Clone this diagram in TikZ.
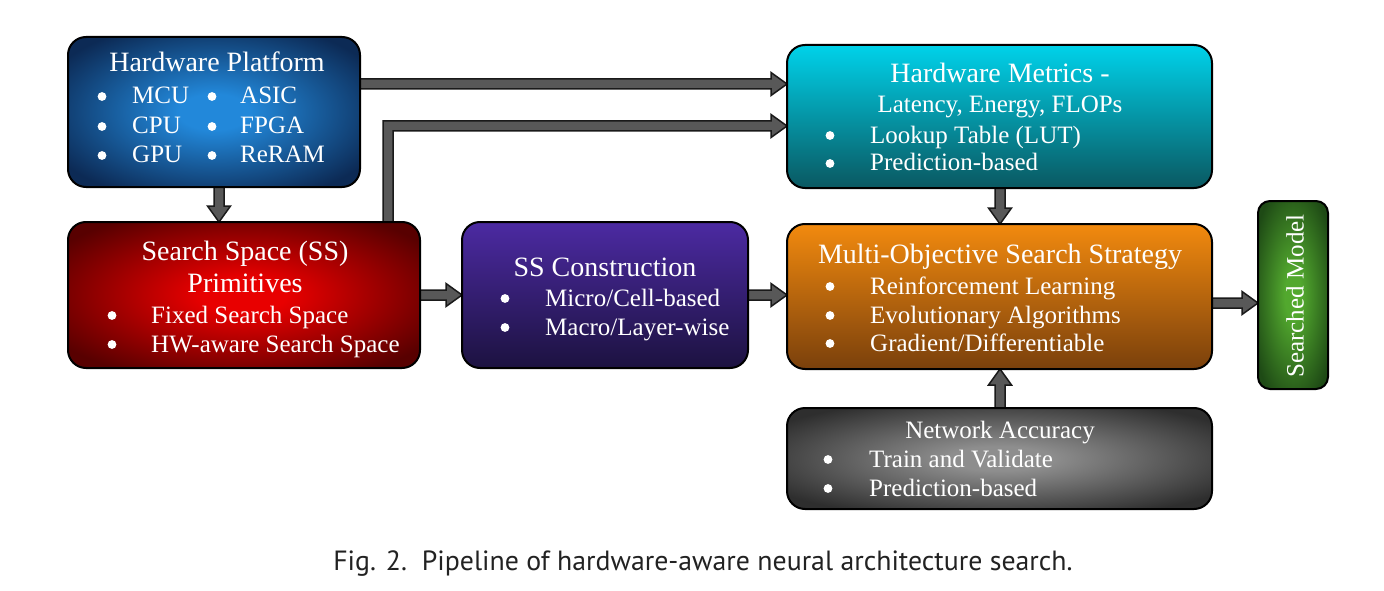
\documentclass[tikz,border=0pt]{standalone}
\usepackage{fontspec}
\setmainfont{Liberation Serif}
\newfontfamily\capfont{PT Sans}
\usetikzlibrary{calc}
\definecolor{hpin}{HTML}{2288DA}
\definecolor{hpout}{HTML}{0C2A55}
\definecolor{ssin}{HTML}{E80000}
\definecolor{ssout}{HTML}{580000}
\definecolor{ssctop}{HTML}{4C2AA2}
\definecolor{sscbot}{HTML}{1C1240}
\definecolor{hmtop}{HTML}{00D2EA}
\definecolor{hmbot}{HTML}{0A5861}
\definecolor{motop}{HTML}{F28A0E}
\definecolor{mobot}{HTML}{7A400C}
\definecolor{nain}{HTML}{8E8E8E}
\definecolor{naout}{HTML}{2E2E2E}
\definecolor{smin}{HTML}{52A82E}
\definecolor{smout}{HTML}{1E4A15}
\definecolor{arrgray}{HTML}{585858}
\definecolor{arrline}{HTML}{1A1A1A}
\definecolor{captext}{HTML}{222222}
\pgfdeclareradialshading{hpshade}{\pgfpoint{0bp}{0bp}}{color(0bp)=(hpin); color(6bp)=(hpin); color(31bp)=(hpout); color(50bp)=(hpout)}
\pgfdeclareradialshading{ssshade}{\pgfpoint{0bp}{0bp}}{color(0bp)=(ssin); color(6bp)=(ssin); color(31bp)=(ssout); color(50bp)=(ssout)}
\pgfdeclareradialshading{nashade}{\pgfpoint{0bp}{0bp}}{color(0bp)=(nain); color(6bp)=(nain); color(31bp)=(naout); color(50bp)=(naout)}
\pgfdeclareradialshading{smshade}{\pgfpoint{0bp}{0bp}}{color(0bp)=(smin); color(6bp)=(smin); color(31bp)=(smout); color(50bp)=(smout)}
\pgfdeclarelayer{bg}
\pgfsetlayers{bg,main}
\newcommand\bulletat[2]{\fill[white] ($(#1.base west)+(-#2,-7.5)$) circle[radius=4.4];}
\newcommand\arrR[2]{\draw[blockarrow] ($(#1)+(0,-5)$) -- ($(#2)+(-16,-5)$) -- ($(#2)+(-16,-11.5)$) -- (#2) -- ($(#2)+(-16,11.5)$) -- ($(#2)+(-16,5)$) -- ($(#1)+(0,5)$) -- cycle;}
\newcommand\arrD[2]{\draw[blockarrow] ($(#1)+(-5,0)$) -- ($(#2)+(-5,-16)$) -- ($(#2)+(-11.5,-16)$) -- (#2) -- ($(#2)+(11.5,-16)$) -- ($(#2)+(5,-16)$) -- ($(#1)+(5,0)$) -- cycle;}
\newcommand\arrU[2]{\draw[blockarrow] ($(#1)+(-5,0)$) -- ($(#2)+(-5,16)$) -- ($(#2)+(-11.5,16)$) -- (#2) -- ($(#2)+(11.5,16)$) -- ($(#2)+(5,16)$) -- ($(#1)+(5,0)$) -- cycle;}
\newcommand\arrUR[2]{\draw[blockarrow] ($(#1)+(-5,0)$) -- ($(#1|-#2)+(-5,-5)$) -- ($(#2)+(-16,-5)$) -- ($(#2)+(-16,-11.5)$) -- (#2) -- ($(#2)+(-16,11.5)$) -- ($(#2)+(-16,5)$) -- ($(#1|-#2)+(5,5)$) -- ($(#1)+(5,0)$) -- cycle;}
\begin{document}
\begin{tikzpicture}[x=1pt,y=-1pt,
  box/.style={draw=black, line width=2pt, rounded corners=18pt, inner sep=0pt, outer sep=0pt, anchor=north west},
  ttl/.style={text=white, font=\fontsize{28}{30}\selectfont, inner sep=0pt, anchor=base},
  sttl/.style={text=white, font=\fontsize{25}{30}\selectfont, inner sep=0pt, anchor=base},
  itm/.style={text=white, font=\fontsize{25}{30}\selectfont, inner sep=0pt, anchor=base west},
  blockarrow/.style={fill=arrgray, draw=arrline, line width=1.5pt, line join=miter},
  captionstyle/.style={text=captext, font=\capfont\fontsize{27.8}{30}\selectfont, inner sep=0pt, anchor=base}]
\useasboundingbox (0,0) rectangle (1384,591);
% boxes
\node[box, shade, shading=hpshade, minimum width=292pt, minimum height=150pt] (hp) at (68,37) {};
\node[box, shade, shading=ssshade, minimum width=352pt, minimum height=146pt] (ss) at (68,222) {};
\node[box, minimum width=286pt, minimum height=146pt, top color=ssctop, bottom color=sscbot] (ssc) at (462,222) {};
\node[box, minimum width=425pt, minimum height=143pt, top color=hmtop, bottom color=hmbot] (hm) at (787,45) {};
\node[box, minimum width=425pt, minimum height=145pt, top color=motop, bottom color=mobot] (mo) at (787,224) {};
\node[box, shade, shading=nashade, minimum width=425pt, minimum height=101pt] (na) at (787,408) {};
\node[box, shade, shading=smshade, minimum width=70pt, minimum height=188pt, rounded corners=12pt] (sm) at (1258,201) {};
% texts: hardware platform
\node[ttl] (hpT) at (217,72) {Hardware Platform};
\node[itm] (hp1) at (132,104) {MCU};
\node[itm] (hp2) at (132,134) {CPU};
\node[itm] (hp3) at (132,163) {GPU};
\node[itm] (hp4) at (240,104) {ASIC};
\node[itm] (hp5) at (240,134) {FPGA};
\node[itm] (hp6) at (240,163) {ReRAM};
\bulletat{hp1}{30}\bulletat{hp2}{30}\bulletat{hp3}{30}
\bulletat{hp4}{28}\bulletat{hp5}{28}\bulletat{hp6}{28}
% search space
\node[ttl] (ssT1) at (245,260) {Search Space (SS)};
\node[ttl] (ssT2) at (245,292) {Primitives};
\node[itm] (ss1) at (151,323) {Fixed Search Space};
\node[itm] (ss2) at (151,352) {HW-aware Search Space};
\bulletat{ss1}{39}\bulletat{ss2}{39}
% ss construction
\node[ttl] (sscT) at (605,276) {SS Construction};
\node[itm] (ssc1) at (545,306) {Micro/Cell-based};
\node[itm] (ssc2) at (545,335) {Macro/Layer-wise};
\bulletat{ssc1}{40}\bulletat{ssc2}{40}
% hardware metrics
\node[ttl] (hmT1) at (1000,83) {Hardware Metrics -};
\node[sttl] (hmT2) at (1000,113) {Latency, Energy, FLOPs};
\node[itm] (hm1) at (870,143) {Lookup Table (LUT)};
\node[itm] (hm2) at (870,171) {Prediction-based};
\bulletat{hm1}{40}\bulletat{hm2}{40}
% multi-objective
\node[ttl] (moT) at (1000,263) {Multi-Objective Search Strategy};
\node[itm] (mo1) at (870,294) {Reinforcement Learning};
\node[itm] (mo2) at (870,323) {Evolutionary Algorithms};
\node[itm] (mo3) at (870,351) {Gradient/Differentiable};
\bulletat{mo1}{40}\bulletat{mo2}{40}\bulletat{mo3}{40}
% network accuracy
\node[sttl] (naT) at (1000,438) {Network Accuracy};
\node[itm] (na1) at (869,467) {Train and Validate};
\node[itm] (na2) at (869,496) {Prediction-based};
\bulletat{na1}{41}\bulletat{na2}{41}
% searched model
\node[text=white, font=\fontsize{25}{30}\selectfont, inner sep=0pt, rotate=90] (smT) at (1295,296) {Searched Model};
% caption
\node[captionstyle] (cap) at (703,570) {Fig. 2.\ \ Pipeline of hardware-aware neural architecture search.};
% connector end points
\coordinate (a1s) at ($(hp.north east)+(0,47)$);
\coordinate (a1e) at ($(hm.north west)+(0,39)$);
\coordinate (a2s) at ($(ss.north west)+(320,0)$);
\coordinate (a2e) at ($(hm.north west)+(0,81)$);
\coordinate (a3s) at ($(hp.south west)+(151,0)$);
\coordinate (a3e) at ($(ss.north west)+(151,0)$);
\coordinate (a4s) at ($(ss.north east)+(0,73)$);
\coordinate (a4e) at ($(ssc.north west)+(0,73)$);
\coordinate (a5s) at ($(ssc.north east)+(0,73)$);
\coordinate (a5e) at ($(mo.north west)+(0,71)$);
\coordinate (a6s) at ($(hm.south west)+(213,0)$);
\coordinate (a6e) at ($(mo.north west)+(213,0)$);
\coordinate (a7s) at ($(na.north west)+(213,0)$);
\coordinate (a7e) at ($(mo.south west)+(213,0)$);
\coordinate (a8s) at ($(mo.north east)+(0,79)$);
\coordinate (a8e) at ($(sm.north west)+(0,102)$);
\begin{pgfonlayer}{bg}
\arrR{a1s}{a1e}
\arrUR{a2s}{a2e}
\arrD{a3s}{a3e}
\arrR{a4s}{a4e}
\arrR{a5s}{a5e}
\arrD{a6s}{a6e}
\arrU{a7s}{a7e}
\arrR{a8s}{a8e}
\end{pgfonlayer}
\end{tikzpicture}
\end{document}
